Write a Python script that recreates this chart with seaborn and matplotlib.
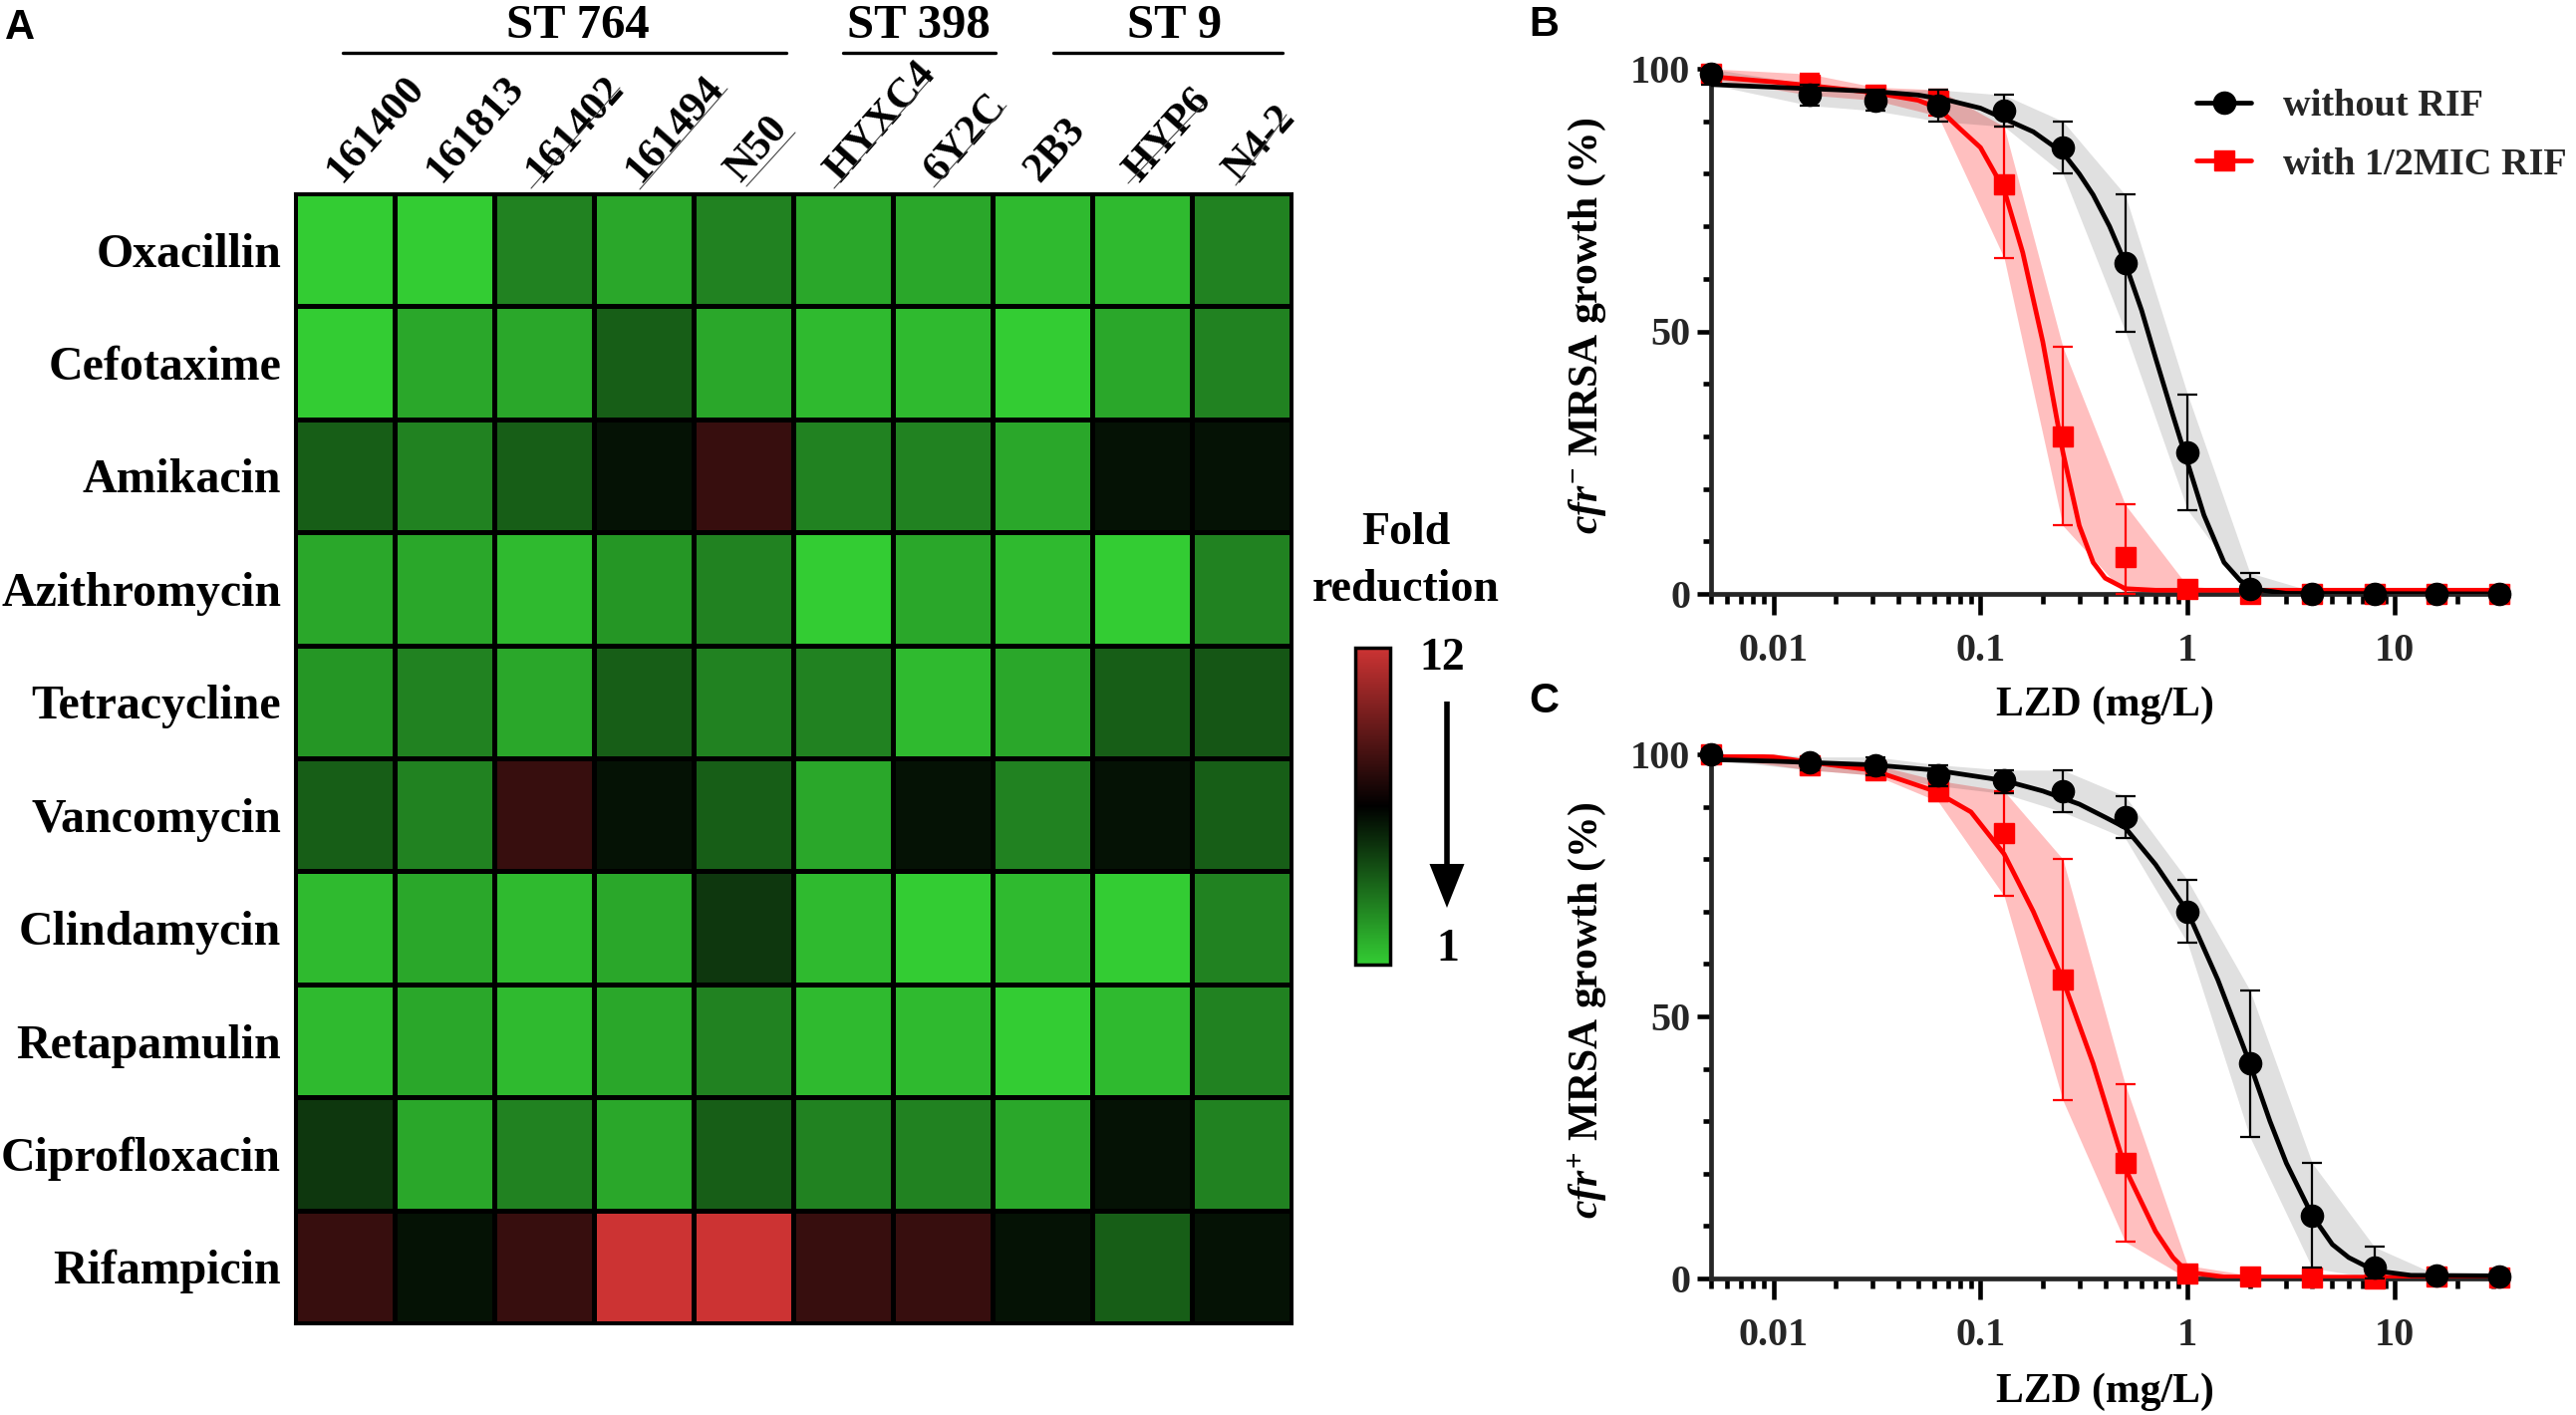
import numpy as np
import pandas as pd
import matplotlib
matplotlib.use('Agg')
import matplotlib.pyplot as plt
import seaborn as sns
from matplotlib.colors import LinearSegmentedColormap
from matplotlib.lines import Line2D
from matplotlib.patches import FancyArrowPatch
from matplotlib.ticker import FixedLocator, FixedFormatter, NullFormatter, MultipleLocator
from matplotlib.transforms import ScaledTranslation

antibiotics = ['Oxacillin', 'Cefotaxime', 'Amikacin', 'Azithromycin', 'Tetracycline',
               'Vancomycin', 'Clindamycin', 'Retapamulin', 'Ciprofloxacin', 'Rifampicin']
strains = ['161400', '161813', '161402', '161494', 'N50', 'HYXC4', '6Y2C', '2B3', 'HYP6', 'N4-2']
fold = [
    [1, 1, 3, 2, 3, 2, 2, 1.5, 1.5, 3],
    [1, 2, 2, 4, 2, 1.5, 1.5, 1, 2, 3],
    [4, 3, 4, 6, 8, 3, 3, 2, 6, 6],
    [2, 2, 1.5, 2.5, 3, 1, 2, 1.5, 1, 3],
    [2.5, 3, 2, 4, 3, 3, 1.5, 2, 4, 4.2],
    [4, 3, 8, 6, 4, 2, 6, 3, 6, 4],
    [1.5, 2, 1.5, 2, 5, 1.5, 1, 1.5, 1, 3],
    [1.5, 2, 1.5, 2, 3, 1.5, 1.5, 1, 1.5, 3],
    [5, 2, 3, 2, 4, 3, 3, 2, 6, 3],
    [8, 6, 8, 12, 12, 8, 8, 6, 4, 6],
]

conc = [0.005, 0.015, 0.031, 0.0625, 0.13, 0.25, 0.5, 1, 2, 4, 8, 16, 32]

# panel B, measured points
b_black = [99, 95, 94, 93, 92, 85, 63, 27, 1, 0, 0, 0, 0]
b_black_up = [100, 97, 96, 96, 95, 90, 76, 38, 4, 0.5, 0.5, 0.5, 0.5]
b_black_lo = [97, 93, 92, 90, 89, 80, 50, 16, 0, 0, 0, 0, 0]
b_red = [99, 97, 95, 94, 78, 30, 7, 1, 0, 0, 0, 0, 0]
b_red_up = [100, 99, 96.5, 96, 89, 47, 17, 1.5, 0.5, 0.3, 0.3, 0.3, 0.3]
b_red_lo = [98, 95, 94, 91, 64, 13, 0, 0, 0, 0, 0, 0, 0]

# panel C, measured points
c_black = [100, 98.5, 98, 96, 95, 93, 88, 70, 41, 12, 2, 0.5, 0.3]
c_black_up = [101, 99.5, 99.5, 98, 97, 97, 92, 76, 55, 22, 6, 0.7, 0.5]
c_black_lo = [99, 97, 96, 94, 92.5, 89, 84, 64, 27, 2, 0, 0, 0]
c_red = [100, 98, 97, 93, 85, 57, 22, 1, 0.3, 0.2, 0, 0.3, 0.2]
c_red_up = [100.5, 99, 98, 95, 93, 80, 37, 2.5, 0.6, 0.4, 0.2, 0.5, 0.4]
c_red_lo = [99.5, 97, 96, 91, 73, 34, 7, 0, 0, 0, 0, 0, 0]

# fitted curves
b_black_fit_x = [0.005, 0.01, 0.02, 0.03, 0.05, 0.07, 0.1, 0.13, 0.18, 0.25, 0.3, 0.35, 0.42, 0.5, 0.6, 0.7, 0.85, 1, 1.2, 1.5, 1.8, 2.2, 3, 32]
b_black_fit_y = [97, 96.5, 96, 95.7, 95, 94, 92.5, 90.5, 88, 84, 80, 76, 70, 63, 54, 45, 34, 25, 15, 6, 2.5, 0.8, 0.1, 0]
b_red_fit_x = [0.005, 0.01, 0.015, 0.03, 0.05, 0.0625, 0.08, 0.1, 0.13, 0.16, 0.2, 0.25, 0.3, 0.35, 0.4, 0.5, 0.7, 32]
b_red_fit_y = [98.5, 97.5, 96.8, 95.5, 94, 92.5, 88.5, 85, 77, 65, 48, 27, 13, 6, 3, 1, 0.7, 0.7]
c_black_fit_x = [0.005, 0.01, 0.03, 0.06, 0.13, 0.2, 0.3, 0.4, 0.5, 0.7, 1, 1.4, 2, 2.5, 3, 4, 5, 6, 8, 12, 32]
c_black_fit_y = [99, 98.7, 98, 97, 95, 93, 90.5, 88, 86, 79, 70, 57, 41, 30, 22, 12, 6.5, 4, 1.5, 0.6, 0.5]
c_red_fit_x = [0.005, 0.01, 0.015, 0.03, 0.06, 0.09, 0.13, 0.18, 0.25, 0.35, 0.5, 0.7, 0.85, 1, 1.5, 32]
c_red_fit_y = [99.8, 99.5, 98.5, 97, 93, 89, 81, 70, 57, 41, 21, 9, 4, 1.2, 0.3, 0.2]

sns.set_theme(style='white')
plt.rcParams['font.family'] = ['Liberation Serif', 'DejaVu Serif']
plt.rcParams['font.weight'] = 'bold'
plt.rcParams['axes.labelweight'] = 'bold'
plt.rcParams['mathtext.fontset'] = 'custom'
plt.rcParams['mathtext.rm'] = 'Liberation Serif:bold'
plt.rcParams['mathtext.it'] = 'Liberation Serif:italic:bold'
plt.rcParams['mathtext.bf'] = 'Liberation Serif:bold'

W, H = 2585, 1420
fig = plt.figure(figsize=(W / 100, H / 100), dpi=100)


def rect(l, t, r, b):
    return [l / W, 1 - b / H, (r - l) / W, (b - t) / H]


def ftext(x, y, s, **kw):
    kw.setdefault('ha', 'center')
    kw.setdefault('va', 'center')
    fig.text(x / W, 1 - y / H, s, color='black', **kw)


# A: heatmap
ax = fig.add_axes(rect(296, 194, 1296, 1328))
cax = fig.add_axes(rect(1360, 650, 1395, 968))
cmap = LinearSegmentedColormap.from_list('gkr', ['#33cc33', '#000000', '#cc3333'])
df = pd.DataFrame(fold, index=antibiotics, columns=strains)
sns.heatmap(df, ax=ax, cmap=cmap, vmin=1, vmax=12, linewidths=2.2, linecolor='black',
            cbar_ax=cax, cbar_kws={'ticks': []})
for s in ax.spines.values():
    s.set_visible(True)
    s.set_linewidth(2.2)
    s.set_color('black')
cbar = ax.collections[0].colorbar
cbar.outline.set_visible(True)
cbar.outline.set_edgecolor('black')
cbar.outline.set_linewidth(2.5)

ax.tick_params(axis='both', length=0)
ax.xaxis.tick_top()
ax.set_xlabel('')
ax.set_ylabel('')
ax.set_yticklabels(antibiotics, rotation=0, fontsize=34.5, fontweight='bold', color='black')
ax.set_xticklabels(strains, rotation=48.5, ha='left', va='baseline', rotation_mode='anchor',
                   fontsize=30.5, fontweight='bold', color='black')
ax.tick_params(axis='y', pad=10)
ax.tick_params(axis='x', pad=7)
shift_x = ScaledTranslation(-3 / 100, 0, fig.dpi_scale_trans)
for lab in ax.get_xticklabels():
    lab.set_transform(lab.get_transform() + shift_x)
shift_y = ScaledTranslation(0, -5 / 100, fig.dpi_scale_trans)
for lab in ax.get_yticklabels():
    lab.set_transform(lab.get_transform() + shift_y)

# thin rules that run under some of the rotated labels
for (x0, y0), (x1, y1) in [((533, 189), (622, 88)), ((642, 190), (730, 89)), ((749, 187), (798, 133)),
                           ((837, 189), (933, 80)), ((937, 188), (1010, 106)), ((1132, 184), (1209, 103)),
                           ((1240, 186), (1291, 115))]:
    fig.add_artist(Line2D([x0 / W, x1 / W], [1 - y0 / H, 1 - y1 / H], color='#444444', lw=0.8))

groups = [('ST 764', 344, 789, 580), ('ST 398', 846, 999, 922), ('ST 9', 1057, 1287, 1179)]
for name, x0, x1, xc in groups:
    fig.add_artist(Line2D([x0 / W, x1 / W], [1 - 53 / H] * 2, color='black', lw=2.4))
    ftext(xc, 26, name, fontsize=35, fontweight='bold')

ftext(1411, 535, 'Fold', fontsize=33, fontweight='bold')
ftext(1411, 592, 'reduction', fontsize=33, fontweight='bold')
ftext(1447, 661, '12', fontsize=33, fontweight='bold')
ftext(1453, 953, '1', fontsize=33, fontweight='bold')
fig.add_artist(FancyArrowPatch((1452 / W, 1 - 704 / H), (1452 / W, 1 - 911 / H), transform=fig.transFigure,
                               arrowstyle='simple,head_length=3.17,head_width=2.52,tail_width=0.4',
                               mutation_scale=10, fc='black', ec='none', lw=0, shrinkA=0, shrinkB=0))

ftext(20, 28, 'A', fontsize=30, fontweight='bold', family='Liberation Sans')
ftext(1549, 25, 'B', fontsize=30, fontweight='bold', family='Liberation Sans')
ftext(1549, 704, 'C', fontsize=30, fontweight='bold', family='Liberation Sans')


def dose_panel(box, black, b_up, b_lo, red, r_up, r_lo, bfx, bfy, rfx, rfy, ylabel, xlab_y):
    a = fig.add_axes(rect(*box))
    a.set_xscale('log')
    a.set_xlim(0.005, 32)
    a.set_ylim(0, 100)
    a.fill_between(conc, r_lo, r_up, color='#ff0000', alpha=0.25, lw=0)
    a.fill_between(conc, b_lo, b_up, color='#000000', alpha=0.12, lw=0)
    sns.lineplot(x=rfx, y=rfy, ax=a, color='#ff0000', lw=3.4, errorbar=None, estimator=None, sort=False, zorder=3)
    a.errorbar(conc, red, yerr=[np.array(red) - np.array(r_lo), np.array(r_up) - np.array(red)],
               fmt='s', color='#ff0000', ms=15, elinewidth=1.6, capsize=7, capthick=1.6, clip_on=False, zorder=4)
    sns.lineplot(x=bfx, y=bfy, ax=a, color='black', lw=3.4, errorbar=None, estimator=None, sort=False, zorder=5)
    a.errorbar(conc, black, yerr=[np.array(black) - np.array(b_lo), np.array(b_up) - np.array(black)],
               fmt='o', color='black', ms=16, elinewidth=1.6, capsize=7, capthick=1.6, clip_on=False, zorder=6)
    sns.despine(ax=a)
    a.spines['left'].set_linewidth(3.4)
    a.spines['bottom'].set_linewidth(3.4)
    a.xaxis.set_major_locator(FixedLocator([0.01, 0.1, 1, 10]))
    a.xaxis.set_major_formatter(FixedFormatter(['0.01', '0.1', '1', '10']))
    a.xaxis.set_minor_locator(FixedLocator([m * 10.0 ** e for e in range(-3, 2) for m in range(2, 10)]))
    a.xaxis.set_minor_formatter(NullFormatter())
    a.yaxis.set_major_locator(FixedLocator([0, 50, 100]))
    a.yaxis.set_minor_locator(MultipleLocator(10))
    a.tick_params(axis='x', which='major', length=15, width=3.3, labelsize=29, pad=13, bottom=True, color='black')
    a.tick_params(axis='x', which='minor', length=7.5, width=3.3, bottom=True, color='black')
    a.tick_params(axis='y', which='major', length=10, width=3.3, labelsize=29, pad=5, left=True, color='black')
    a.tick_params(axis='y', which='minor', length=5.5, width=3.3, left=True, color='black')
    a.set_xlabel('')
    a.set_ylabel('')
    ftext(2112, xlab_y, 'LZD (mg/L)', fontsize=30, fontweight='bold')
    ftext(1593, (box[1] + box[3]) / 2 - 6, ylabel, fontsize=30, fontweight='bold', rotation=90)
    return a


ax_b = dose_panel((1717, 69, 2508, 596), b_black, b_black_up, b_black_lo, b_red, b_red_up, b_red_lo,
                  b_black_fit_x, b_black_fit_y, b_red_fit_x, b_red_fit_y,
                  r'$\mathit{cfr}^{-}$ MRSA growth (%)', 708)
ax_c = dose_panel((1717, 757, 2508, 1283), c_black, c_black_up, c_black_lo, c_red, c_red_up, c_red_lo,
                  c_black_fit_x, c_black_fit_y, c_red_fit_x, c_red_fit_y,
                  r'$\mathit{cfr}^{+}$ MRSA growth (%)', 1397)

handles = [Line2D([], [], color='black', marker='o', ms=16, lw=3.4),
           Line2D([], [], color='#ff0000', marker='s', ms=15, lw=3.4)]
ax_b.legend(handles, ['without RIF', 'with 1/2MIC RIF'], loc='upper left', frameon=False,
            bbox_to_anchor=(2204 / W, 1 - 89 / H), bbox_transform=fig.transFigure,
            prop={'family': 'Liberation Serif', 'weight': 'bold', 'size': 27.5},
            handlelength=1.45, handletextpad=0.84, labelspacing=0.62, borderpad=0, borderaxespad=0)

fig.savefig('out.png', dpi=100)
